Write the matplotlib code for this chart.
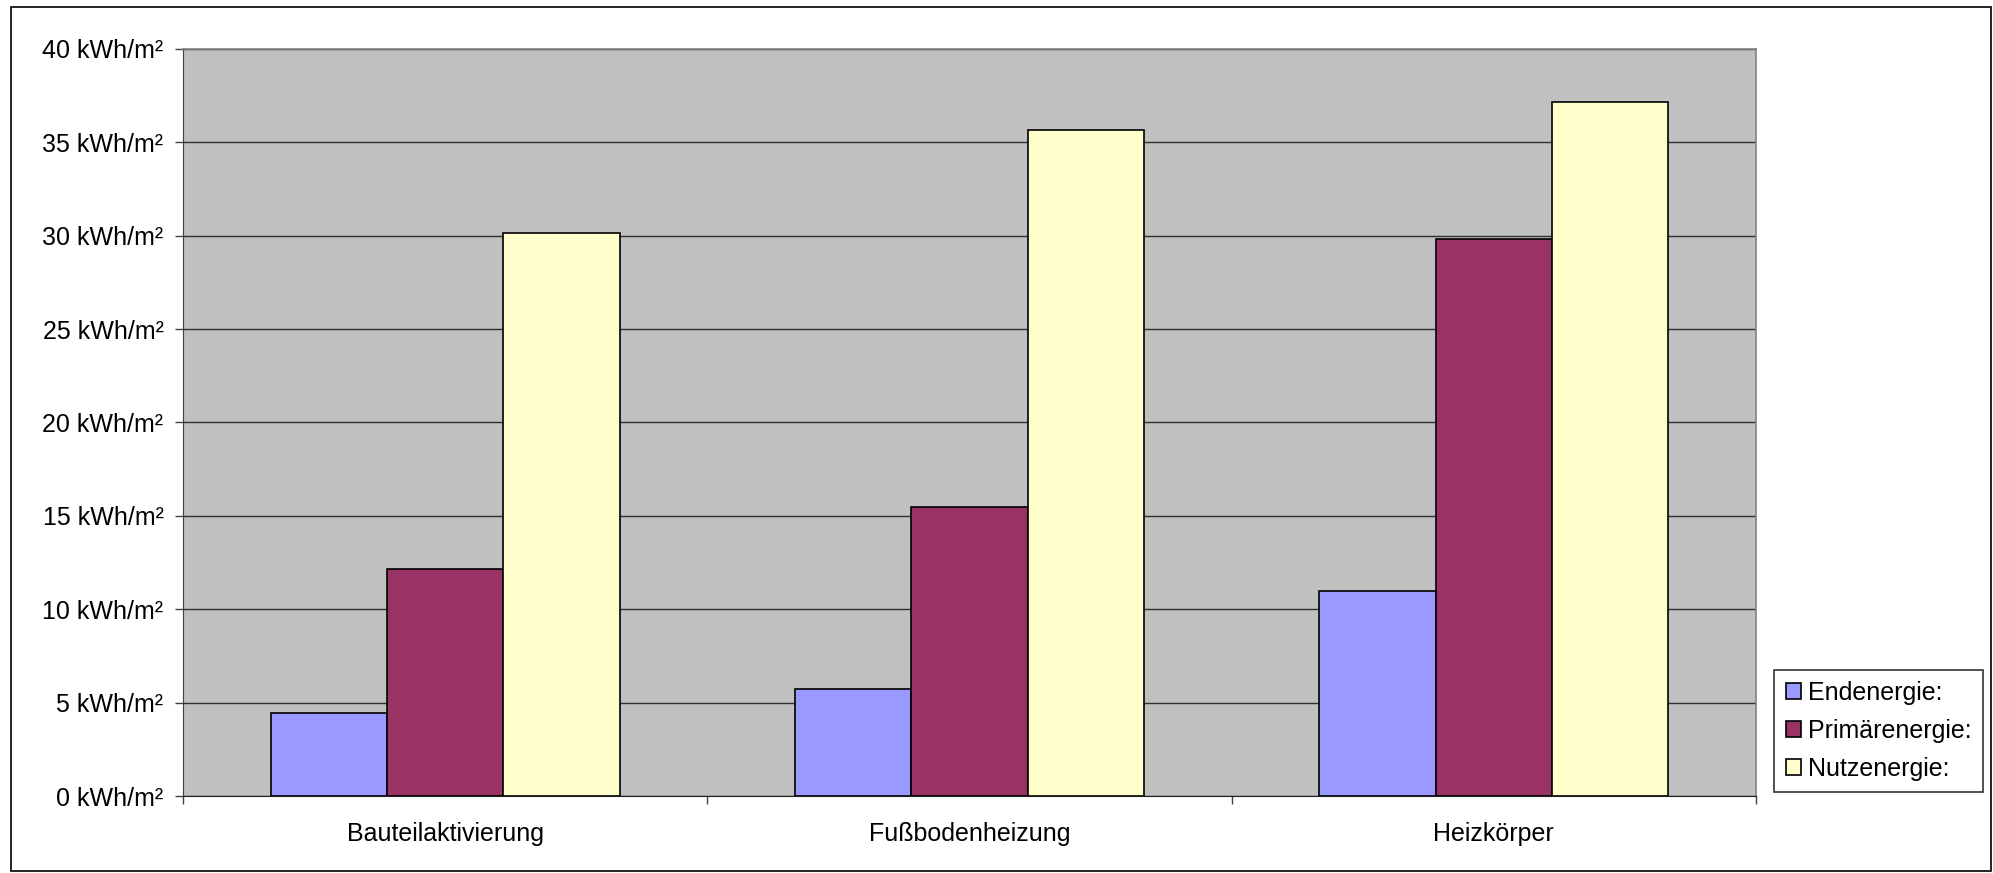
import numpy as np
import matplotlib
matplotlib.use("Agg")
import matplotlib.pyplot as plt
from matplotlib.patches import Rectangle

# data
kategorien = ["Bauteilaktivierung", "Fußbodenheizung", "Heizkörper"]
serien = ["Endenergie:", "Primärenergie:", "Nutzenergie:"]
endenergie = [4.47, 5.73, 10.96]
primaerenergie = [12.18, 15.47, 29.85]
nutzenergie = [30.12, 35.65, 37.15]
y_ticks = [0, 5, 10, 15, 20, 25, 30, 35, 40]
y_labels = [f"{v} kWh/m²" for v in y_ticks]

farben = ["#9999FF", "#993366", "#FFFFCC"]

plt.rcParams["font.family"] = ["Liberation Sans", "DejaVu Sans"]

fig = plt.figure(figsize=(19.93, 8.73), dpi=100)
ax = fig.add_axes([0.0918, 0.0882, 0.7893, 0.8557])
ax.set_facecolor("#C0C0C0")

x = np.arange(len(kategorien))
w = 0.222
for i, werte in enumerate([endenergie, primaerenergie, nutzenergie]):
    ax.bar(x + (i - 1) * w, werte, width=w, color=farben[i], edgecolor="black",
           linewidth=1.2, label=serien[i], zorder=3)

ax.set_xlim(-0.5, 2.5)
ax.set_ylim(0, 40)

# y axis
ax.set_yticks(y_ticks)
ax.set_yticklabels(y_labels, fontsize=18)
ax.tick_params(axis="y", direction="out", length=6, width=1, pad=8, color="#404040")
ax.grid(axis="y", color="#303030", linewidth=1, zorder=1)

# x axis: ticks at category borders, labels at centers
ax.set_xticks([-0.5, 0.5, 1.5, 2.5])
ax.set_xticklabels([])
ax.tick_params(axis="x", which="major", direction="out", length=6, width=1, color="#404040")
ax.set_xticks(x, minor=True)
ax.set_xticklabels(kategorien, minor=True, fontsize=18)
ax.tick_params(axis="x", which="minor", length=0, pad=19)

for s in ["top", "right"]:
    ax.spines[s].set_color("#808080")
    ax.spines[s].set_linewidth(1.2)
ax.spines["left"].set_color("#404040")
ax.spines["bottom"].set_color("#202020")

leg = fig.legend(loc="center", bbox_to_anchor=(0.9426, 0.1627), fontsize=18,
                 frameon=True, fancybox=False, edgecolor="black", handlelength=0.6,
                 handleheight=0.6, handletextpad=0.3, labelspacing=0.55,
                 borderpad=0.45, borderaxespad=0)
leg.get_frame().set_linewidth(1.2)

# outer chart border
fig.patches.append(Rectangle((11 / 1993, 2 / 873), 1980 / 1993, 864 / 873,
                             transform=fig.transFigure, fill=False,
                             edgecolor="black", linewidth=1.2))

fig.savefig("out.png", dpi=100)
